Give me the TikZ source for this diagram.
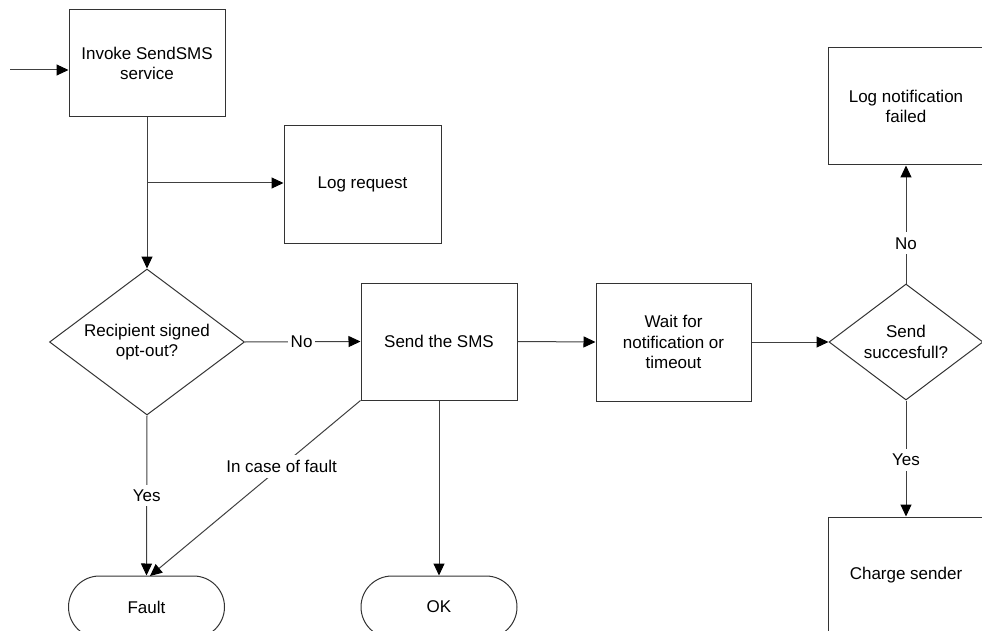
\documentclass[tikz,border=0pt]{standalone}
\usepackage{fontspec}
\setmainfont{Liberation Sans}
\usetikzlibrary{shapes.geometric,shapes.misc,arrows.meta}
\begin{document}
\begin{tikzpicture}[x=1pt,y=-1pt,
  every node/.style={font=\fontsize{17}{20.5}\selectfont, text=black},
  line/.style={draw=black!75, line width=1pt},
  arr/.style={line, -{Triangle[length=12pt,width=11pt,color=black]}},
  boxnode/.style={draw=black!80, line width=1pt, rectangle, align=center, inner sep=0pt},
  decision/.style={draw=black!80, line width=1pt, diamond, align=center, inner sep=0pt},
  terminal/.style={draw=black!80, line width=1pt, rounded rectangle, inner sep=0pt, minimum width=156pt, minimum height=62pt},
  lbl/.style={fill=white, inner xsep=3pt, inner ysep=5pt}]
\useasboundingbox (0,0) rectangle (982,631);
\clip (0,0) rectangle (982,631);
\node[boxnode, minimum width=156pt, minimum height=107pt] (invoke) at (147,63.5) {Invoke SendSMS\\service};
\node[boxnode, minimum width=157pt, minimum height=117pt] (logreq) at (362.5,184.5) {Log request};
\node[decision, minimum width=195pt, minimum height=146pt, aspect=1.34] (recip) at (147,342) {Recipient signed\\opt-out?};
\node[boxnode, minimum width=156pt, minimum height=117pt] (send) at (439,341.5) {Send the SMS};
\node[boxnode, minimum width=155pt, minimum height=118pt] (wait) at (673.5,342) {Wait for\\notification or\\timeout};
\node[decision, minimum width=154pt, minimum height=116pt, aspect=1.33] (succ) at (906,342) {Send\\succesfull?};
\node[boxnode, minimum width=156pt, minimum height=117pt] (lognf) at (906,106.5) {Log notification\\failed};
\node[boxnode, minimum width=156pt, minimum height=117pt] (charge) at (906,575.5) {Charge sender};
\node[terminal] (fault) at (146.5,607) {Fault};
\node[terminal] (ok) at (439,607) {OK};
\coordinate (start) at (10,70);
\coordinate (branch) at (147,183);
\coordinate (faultin) at (150,576);
\draw[arr] (start) -- (start -| invoke.west);
\draw[arr] (invoke.south) -- (recip.north);
\draw[arr] (branch) -- (branch -| logreq.west);
\draw[arr] (recip.east) -- node[lbl, pos=0.49] {No} (send.west);
\draw[arr] (recip.south) -- node[lbl, pos=0.5] {Yes} (fault.north);
\draw[arr] (send.south west) -- node[lbl, pos=0.375] {In case of fault} (faultin);
\draw[arr] (send.south) -- (ok.north);
\draw[arr] (send.east) -- (wait.west);
\draw[arr] (wait.east) -- (succ.west);
\draw[arr] (succ.north) -- node[lbl, pos=0.34] {No} (lognf.south);
\draw[arr] (succ.south) -- node[lbl, pos=0.51] {Yes} (charge.north);
\end{tikzpicture}
\end{document}
